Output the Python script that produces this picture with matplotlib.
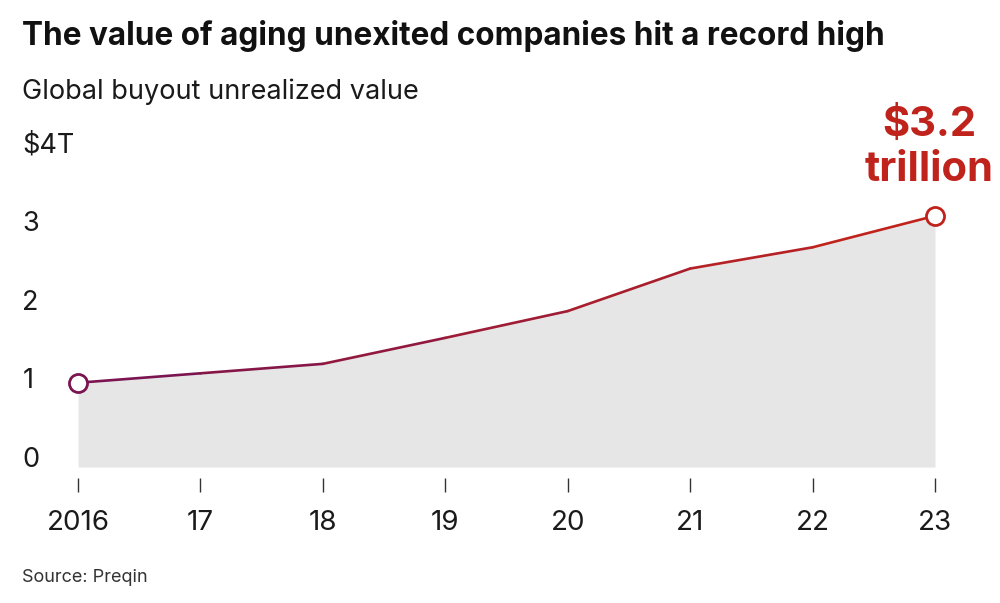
import matplotlib
matplotlib.use("Agg")
from matplotlib import pyplot as plt
from matplotlib.collections import LineCollection
from matplotlib.colors import LinearSegmentedColormap
import numpy as np

years = [2016, 2017, 2018, 2019, 2020, 2021, 2022, 2023]
year_labels = ["2016", "17", "18", "19", "20", "21", "22", "23"]
values = [1.07, 1.19, 1.31, 1.64, 1.98, 2.52, 2.79, 3.19]
y_ticks = [0, 1, 2, 3, 4]
y_labels = ["0", "1", "2", "3", "$4T"]

purple = "#7b1450"
red = "#c0231b"

plt.rcParams["font.family"] = ["Inter", "DejaVu Sans"]

fig = plt.figure(figsize=(10, 6.03), dpi=100)
ax = fig.add_axes([0.078, 0.2255, 0.857, 0.5224])

ax.fill_between(years, 0, values, color="#e6e6e6", lw=0, zorder=1)

# line coloured from purple to red, one colour per segment
cmap = LinearSegmentedColormap.from_list("pr", [purple, red])
pts = np.column_stack([years, values])
segs = np.stack([pts[:-1], pts[1:]], axis=1)
mids = np.linspace(0, 1, len(segs))
lc = LineCollection(segs, colors=cmap(mids), linewidths=1.9, zorder=2,
                    capstyle="round", joinstyle="round")
ax.add_collection(lc)

ax.plot(years[0], values[0], "o", ms=13, mfc="white", mec=purple, mew=2,
        zorder=3, clip_on=False)
ax.plot(years[-1], values[-1], "o", ms=13, mfc="white", mec=red, mew=2,
        zorder=3, clip_on=False)

ax.text(years[-1] - 0.05, values[-1] + 0.34, "$3.2\ntrillion", color=red,
        fontsize=30, fontweight="bold", ha="center", va="bottom",
        linespacing=1.25)

ax.set_xlim(2016, 2023)
ax.set_ylim(0, 4)
for s in ax.spines.values():
    s.set_visible(False)
ax.spines["bottom"].set_position(("outward", 8))

ax.set_xticks(years, year_labels)
ax.tick_params(axis="x", length=10, width=1, color="#333333", pad=13,
               labelsize=20, labelcolor="#1a1a1a")
ax.set_yticks(y_ticks, y_labels)
ax.tick_params(axis="y", length=0, pad=40, labelsize=19.5, labelcolor="#1a1a1a")
for lbl in ax.get_yticklabels():
    lbl.set_horizontalalignment("left")
    lbl.set_verticalalignment("baseline")

fig.text(0.022, 0.925, "The value of aging unexited companies hit a record high",
         fontsize=22.7, fontweight="bold", color="#111111", va="baseline")
fig.text(0.022, 0.835, "Global buyout unrealized value", fontsize=19.5,
         color="#1a1a1a", va="baseline")
fig.text(0.022, 0.035, "Source: Preqin", fontsize=13, color="#333333",
         va="baseline")

fig.savefig("out.png", dpi=100)
